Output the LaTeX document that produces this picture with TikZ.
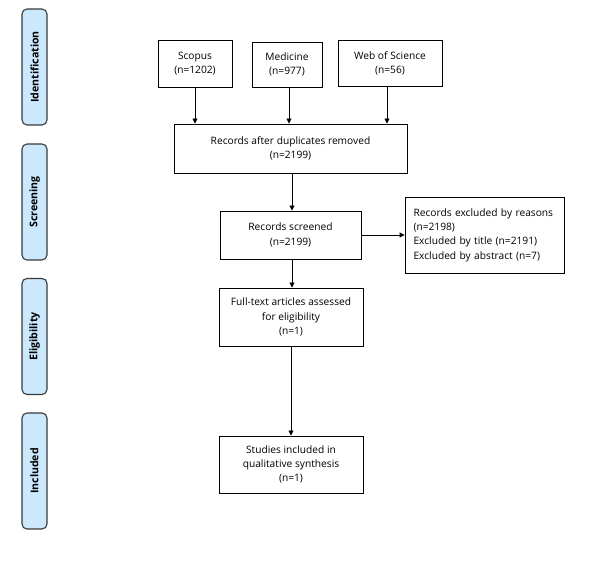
\documentclass[tikz,border=0pt]{standalone}
\usepackage{fontspec}
\setmainfont{Open Sans}
\usetikzlibrary{arrows.meta}
\definecolor{phase}{HTML}{CCE8FC}
\definecolor{phaseedge}{HTML}{3A3A3A}
\tikzset{
  box/.style={draw=black, line width=0.9pt, align=center, inner sep=2pt,
    font=\fontsize{10.2}{14.3}\selectfont},
  phasebox/.style={draw=phaseedge, fill=phase, rounded corners=5pt, line width=1.1pt,
    minimum width=116pt, minimum height=25pt, rotate=90,
    font=\fontsize{10.6}{12}\selectfont\bfseries},
  arr/.style={-{Triangle[length=5pt,width=5pt]}, line width=0.9pt}
}
\begin{document}
\begin{tikzpicture}[x=1pt,y=-1pt]
\useasboundingbox (0,0) rectangle (595,585);
\fill[white] (0,0) rectangle (595,585);
% phase labels
\node[phasebox] (pid) at (34.5,67) {Identification};
\node[phasebox] (psc) at (34.5,202) {Screening};
\node[phasebox] (pel) at (34.5,336.5) {Eligibility};
\node[phasebox] (pin) at (34.5,471) {Included};
% boxes
\node[box, minimum width=74pt, minimum height=47pt] (scopus) at (195,63.5) {Scopus\\(n=1202)};
\node[box, minimum width=70pt, minimum height=45pt] (med) at (287,64.5) {Medicine\\(n=977)};
\node[box, minimum width=104pt, minimum height=46pt] (wos) at (390,63.5) {Web of Science\\(n=56)};
\node[box, minimum width=233pt, minimum height=49pt] (dup) at (290.5,148.5) {Records after duplicates removed\\(n=2199)};
\node[box, minimum width=141pt, minimum height=48pt] (scr) at (290.5,235) {Records screened\\(n=2199)};
\node[box, minimum width=159pt, minimum height=76pt, align=left, text width=142pt] (exc) at (484.5,235) {Records excluded by reasons\\(n=2198)\\Excluded by title (n=2191)\\Excluded by abstract (n=7)};
\node[box, minimum width=144pt, minimum height=58pt] (full) at (291,317) {Full-text articles assessed\\for eligibility\\(n=1)};
\node[box, minimum width=144pt, minimum height=57pt] (stud) at (291,464.5) {Studies included in\\qualitative synthesis\\(n=1)};
% arrows
\draw[arr] (scopus.south) -- (scopus.south |- dup.north);
\draw[arr] ([xshift=2pt]med.south) -- ([xshift=2pt]med.south |- dup.north);
\draw[arr] ([xshift=-3pt]wos.south) -- ([xshift=-3pt]wos.south |- dup.north);
\draw[arr] ([xshift=1.5pt]dup.south) -- ([xshift=1.5pt]dup.south |- scr.north);
\draw[arr] ([xshift=1.5pt]scr.south) -- ([xshift=1.5pt]scr.south |- full.north);
\draw[arr] (full.south) -- (stud.north);
\draw[arr] (scr.east) -- (exc.west);
\end{tikzpicture}
\end{document}
